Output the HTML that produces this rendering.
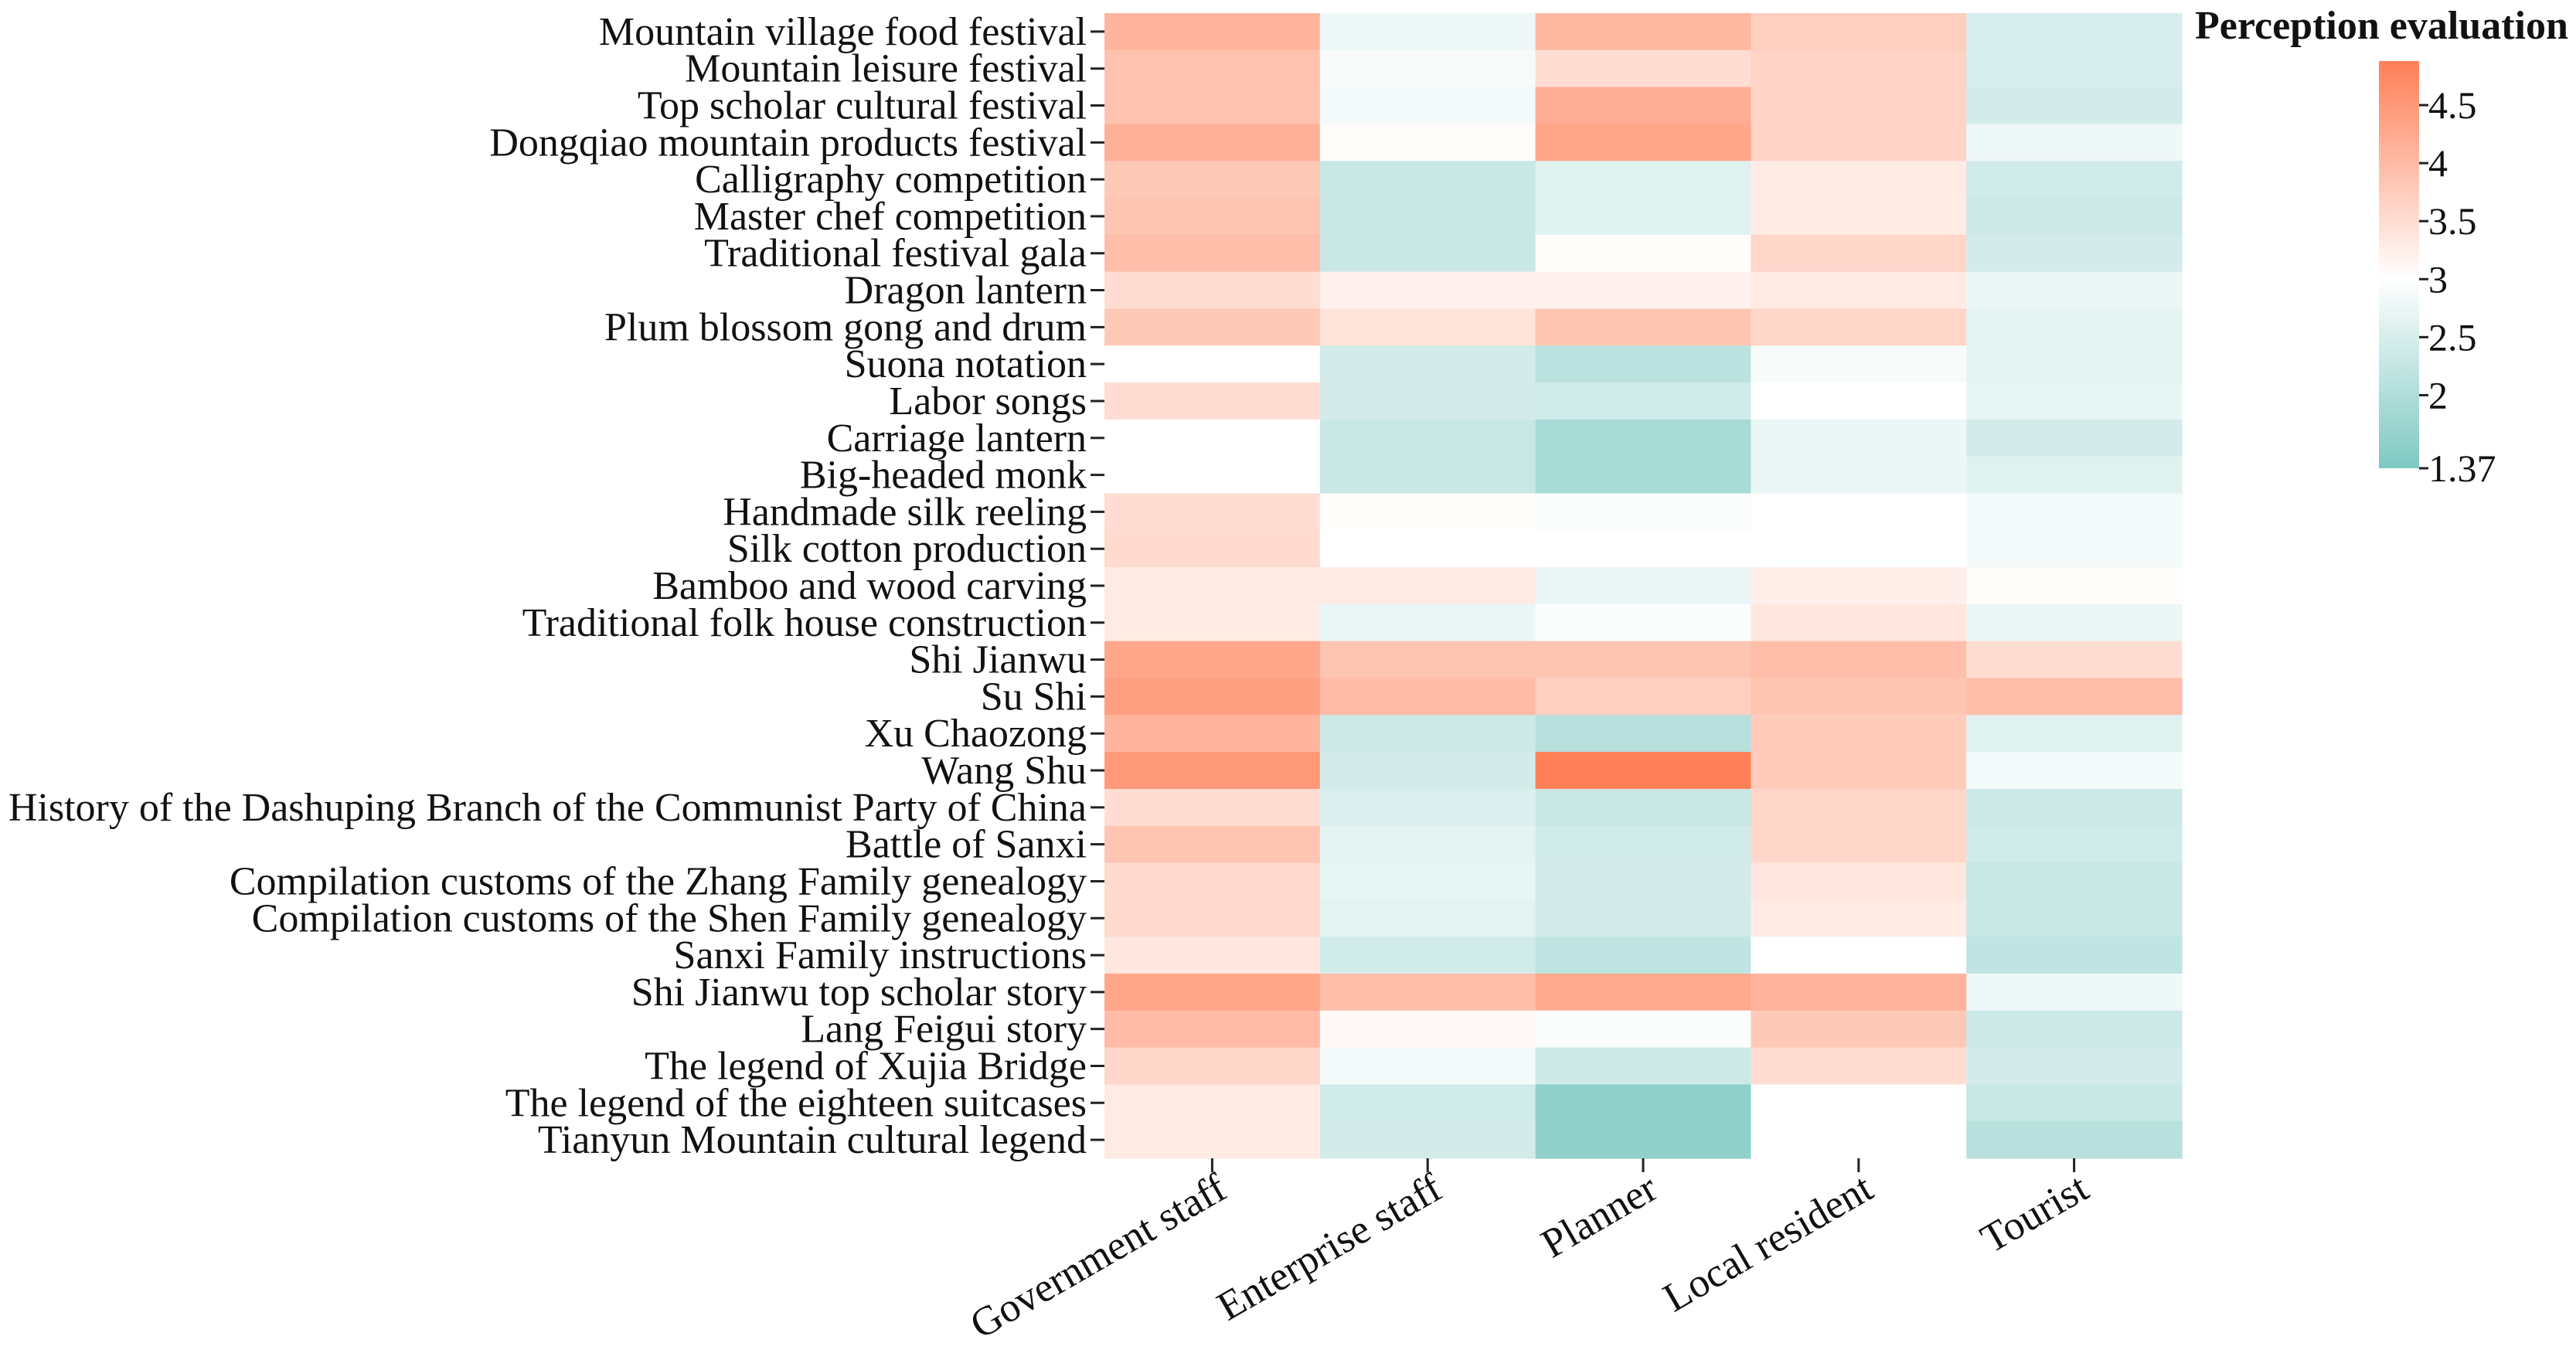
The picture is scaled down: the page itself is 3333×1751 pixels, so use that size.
<!DOCTYPE html>
<html><head><meta charset="utf-8"><style>
html,body{margin:0;padding:0;background:#fff}
svg{display:block}
text{font-family:"Liberation Serif","Times New Roman",serif;fill:#111}
</style></head><body>
<svg id="chart" width="3333" height="1751" viewBox="0 0 3333 1751" xmlns="http://www.w3.org/2000/svg">
<defs>
<linearGradient id="cbgrad" x1="0" y1="1" x2="0" y2="0">
<stop offset="0" stop-color="#7ec8c2"/>
<stop offset="0.464" stop-color="#ffffff"/>
<stop offset="1" stop-color="#ff7f57"/>
</linearGradient>
</defs>
<g id="cells"></g>
<g id="yaxis"></g>
<g id="xaxis"></g>
<g id="legend">
<text x="2840" y="50" font-size="52" font-weight="bold">Perception evaluation</text>
<rect x="3078" y="79" width="52" height="527" fill="url(#cbgrad)"/>
</g>
</svg>
<script>
const rows = ["Mountain village food festival","Mountain leisure festival","Top scholar cultural festival","Dongqiao mountain products festival","Calligraphy competition","Master chef competition","Traditional festival gala","Dragon lantern","Plum blossom gong and drum","Suona notation","Labor songs","Carriage lantern","Big-headed monk","Handmade silk reeling","Silk cotton production","Bamboo and wood carving","Traditional folk house construction","Shi Jianwu","Su Shi","Xu Chaozong","Wang Shu","History of the Dashuping Branch of the Communist Party of China","Battle of Sanxi","Compilation customs of the Zhang Family genealogy","Compilation customs of the Shen Family genealogy","Sanxi Family instructions","Shi Jianwu top scholar story","Lang Feigui story","The legend of Xujia Bridge","The legend of the eighteen suitcases","Tianyun Mountain cultural legend"];
const cols = ["Government staff","Enterprise staff","Planner","Local resident","Tourist"];
const govValues = [4.1,3.9,3.9,4.15,3.8,3.85,3.95,3.5,3.8,3.0,3.5,3.0,3.0,3.5,3.55,3.3,3.3,4.3,4.4,4.1,4.5,3.5,3.85,3.55,3.55,3.35,4.3,4.0,3.6,3.3,3.3];
const entValues = [2.8,2.9,2.85,3.05,2.3,2.3,2.3,3.2,3.4,2.45,2.45,2.3,2.3,3.02,3.0,3.3,2.75,3.85,4.0,2.35,2.45,2.55,2.65,2.7,2.65,2.4,3.95,3.1,2.85,2.4,2.45];
const planValues = [4.05,3.5,4.2,4.3,2.6,2.6,3.05,3.2,3.85,2.15,2.4,1.9,1.9,2.95,3.0,2.75,2.95,3.85,3.7,2.1,4.9,2.3,2.4,2.45,2.45,2.2,4.25,2.95,2.35,1.6,1.6];
const localValues = [3.7,3.65,3.65,3.65,3.3,3.3,3.6,3.3,3.6,2.9,3.0,2.75,2.75,3.0,3.0,3.25,3.35,3.95,3.85,3.75,3.75,3.6,3.6,3.35,3.3,3.0,4.1,3.8,3.5,3.0,3.0];
const touristValues = [2.5,2.5,2.45,2.8,2.4,2.35,2.45,2.75,2.65,2.65,2.7,2.45,2.6,2.85,2.85,3.05,2.75,3.5,3.95,2.6,2.85,2.35,2.4,2.3,2.3,2.2,2.8,2.35,2.45,2.3,2.1];
const legendTicks = [4.5,4,3.5,3,2.5,2,1.37];

const series = [govValues,entValues,planValues,localValues,touristValues];
const NS = "http://www.w3.org/2000/svg";
const X0 = 1429, X1 = 2823, Y0 = 17, Y1 = 1499;
const cw = (X1-X0)/cols.length, ch = (Y1-Y0)/rows.length;
const xPos = i => X0 + i*cw;
const yPos = j => Y0 + j*ch;
const VMIN = 1.37, VMID = 3, VMAX = 4.88;
function lerp(a,b,t){return Math.round(a+(b-a)*t);}
function color(v){
  const lo=[126,200,194], mid=[255,255,255], hi=[255,127,87];
  let a,b,t;
  if(v<=VMID){a=lo;b=mid;t=(v-VMIN)/(VMID-VMIN);} else {a=mid;b=hi;t=(v-VMID)/(VMAX-VMID);}
  t=Math.max(0,Math.min(1,t));
  return `rgb(${lerp(a[0],b[0],t)},${lerp(a[1],b[1],t)},${lerp(a[2],b[2],t)})`;
}
function mk(tag, attrs, parent){const e=document.createElementNS(NS,tag);for(const k in attrs)e.setAttribute(k,attrs[k]);parent.appendChild(e);return e;}
const cells=document.getElementById('cells'), ya=document.getElementById('yaxis'), xa=document.getElementById('xaxis'), lg=document.getElementById('legend');
series.forEach((vals,i)=>{
  vals.forEach((v,j)=>{
    const r=mk('rect',{x:xPos(i),y:yPos(j),width:cw+0.6,height:ch+0.6,fill:color(v)},cells);
    
    
  });
});
rows.forEach((name,j)=>{
  const yc=yPos(j)+ch/2;
  const tk=mk('line',{x1:1411,x2:1429,y1:yc,y2:yc,stroke:'#222','stroke-width':3},ya);
  
  
  const t=mk('text',{x:1406,y:yc+17,'text-anchor':'end','font-size':52},ya);
  t.textContent=name;
  
  
});
cols.forEach((name,i)=>{
  const xc=xPos(i)+cw/2;
  const tk=mk('line',{x1:xc,x2:xc,y1:1499,y2:1517,stroke:'#222','stroke-width':3},xa);
  
  
  const t=mk('text',{x:0,y:0,'text-anchor':'end','font-size':53,transform:`translate(${xc+22},${1548}) rotate(-30)`},xa);
  t.textContent=name;
  
  
});
const ly = v => 79 + (VMAX - v)*(527/(VMAX-VMIN));
legendTicks.forEach(v=>{
  const y=Math.min(ly(v),606);
  const tk=mk('line',{x1:3130,x2:3142,y1:y,y2:y,stroke:'#222','stroke-width':3},lg);
  
  
  const t=mk('text',{x:3142,y:y+17,'font-size':50},lg);
  t.textContent=String(v);
  
  
});
</script>
</body></html>
